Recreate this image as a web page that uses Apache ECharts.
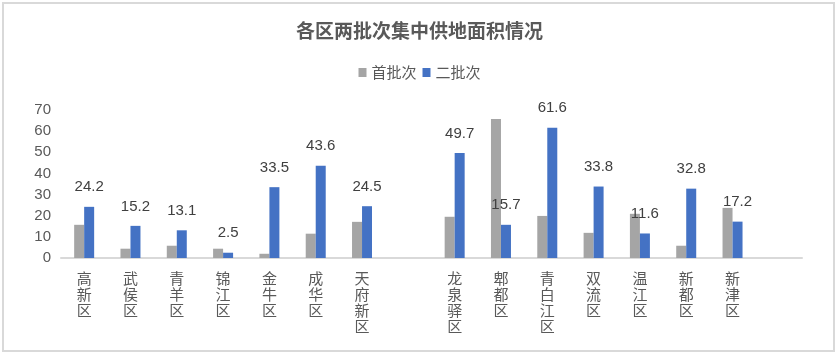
<!DOCTYPE html>
<html>
<head>
<meta charset="utf-8">
<script src="https://cdn.jsdelivr.net/npm/echarts@6/dist/echarts.min.js"></script>
<style>
html,body{margin:0;padding:0;background:#fff;}
#c{width:839px;height:355px;}
</style>
</head>
<body>
<div id="c"></div>
<script>
const categories = ['高新区','武侯区','青羊区','锦江区','金牛区','成华区','天府新区','','龙泉驿区','郫都区','青白江区','双流区','温江区','新都区','新津区',''];
const firstBatch = [15.7, 4.4, 5.8, 4.4, 2.0, 11.5, 17.1, null, 19.5, 65.7, 19.9, 11.9, 20.9, 5.8, 23.7, null];
const secondBatch = [24.2, 15.2, 13.1, 2.5, 33.5, 43.6, 24.5, null, 49.7, 15.7, 61.6, 33.8, 11.6, 32.8, 17.2, null];
const yTicks = [0, 10, 20, 30, 40, 50, 60, 70];

const FONT = '"Liberation Sans", "Noto Sans CJK SC", sans-serif';
const chart = echarts.init(document.getElementById('c'), null, {renderer: 'canvas'});
chart.setOption({
  backgroundColor: '#fff',
  animation: false,
  title: {
    text: '各区两批次集中供地面积情况',
    left: 'center',
    top: 16,
    textStyle: {fontFamily: '"Noto Sans CJK SC", sans-serif', fontSize: 19, fontWeight: 'bold', color: '#595959'}
  },
  legend: {
    top: 60,
    left: 'center',
    itemWidth: 8,
    itemHeight: 9,
    itemGap: 6,
    icon: 'rect',
    textStyle: {fontFamily: '"Noto Sans CJK SC", sans-serif', fontSize: 15, color: '#595959'},
    data: ['首批次', '二批次']
  },
  grid: {left: 61, right: 37, top: 110, bottom: 97, containLabel: false},
  xAxis: {
    type: 'category',
    data: categories,
    axisLine: {lineStyle: {color: '#d9d9d9', width: 2}},
    axisTick: {show: false},
    axisLabel: {
      interval: 0,
      margin: 12,
      fontFamily: '"Noto Sans CJK SC", sans-serif',
      fontSize: 15,
      lineHeight: 16,
      color: '#595959',
      formatter: v => v.split('').join('\n')
    }
  },
  yAxis: {
    type: 'value',
    min: yTicks[0],
    max: yTicks[yTicks.length - 1],
    interval: 10,
    axisLine: {show: false},
    axisTick: {show: false},
    splitLine: {show: false},
    axisLabel: {margin: 10, fontFamily: FONT, fontSize: 15, color: '#595959'}
  },
  series: [
    {
      name: '首批次',
      type: 'bar',
      data: firstBatch,
      barWidth: 10,
      barGap: '0%',
      itemStyle: {color: '#a5a5a5'}
    },
    {
      name: '二批次',
      type: 'bar',
      data: secondBatch,
      barWidth: 10,
      barGap: '0%',
      itemStyle: {color: '#4472c4'},
      label: {
        show: true,
        position: 'top',
        distance: 12,
        fontFamily: FONT,
        fontSize: 15,
        color: '#404040'
      }
    }
  ],
  graphic: [{
    type: 'rect',
    shape: {x: 3, y: 3, width: 831, height: 348},
    style: {fill: 'none', stroke: '#d9d9d9', lineWidth: 2},
    silent: true
  }]
});
</script>
</body>
</html>
